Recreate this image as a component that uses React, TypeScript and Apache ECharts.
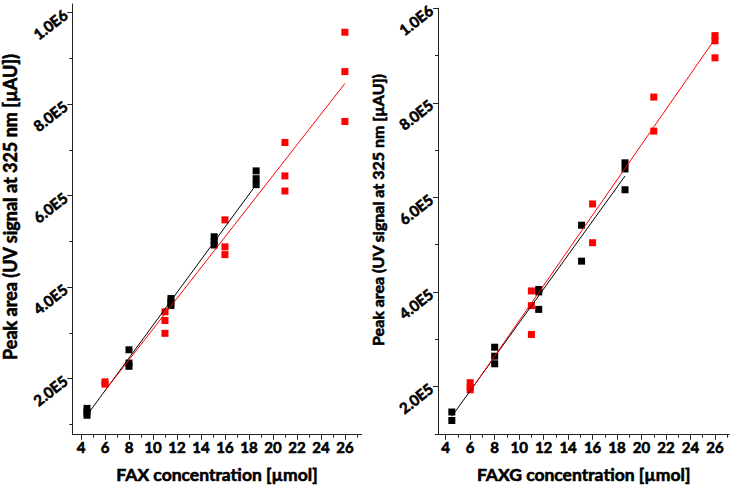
import React, { useEffect, useRef } from "react";
import * as echarts from "echarts";

// FAX panel (left)
const faxBlackX = [4.5, 4.5, 4.5, 8, 8, 8, 11.5, 11.5, 11.5, 15.1, 15.1, 15.1, 18.6, 18.6, 18.6];
const faxBlackY = [135000, 127000, 120000, 263000, 234000, 227000, 375000, 368000, 360000, 510000, 500000, 492000, 654000, 637000, 624000];
const faxRedX = [6, 6, 11, 11, 11, 16, 16, 16, 21, 21, 21, 26, 26, 26];
const faxRedY = [193000, 188000, 346000, 327000, 299000, 547000, 488000, 471000, 716000, 643000, 610000, 957000, 871000, 762000];
const faxBlackFit = [[4.5, 120000], [18.6, 624000]];
const faxRedFit = [[6, 174000], [26, 845000]];

// FAXG panel (right)
const faxgBlackX = [4.5, 4.5, 8, 8, 8, 11.6, 11.6, 11.6, 15.1, 15.1, 18.65, 18.65, 18.65];
const faxgBlackY = [146000, 128000, 283000, 264000, 248000, 405000, 400000, 363000, 541000, 465000, 673000, 660000, 616000];
const faxgRedX = [6, 6, 6, 11, 11, 11, 16, 16, 21, 21, 26, 26, 26];
const faxgRedY = [208000, 198000, 193000, 402000, 371000, 310000, 586000, 504000, 812000, 740000, 942000, 931000, 895000];
const faxgBlackFit = [[4.5, 137000], [18.65, 645000]];
const faxgRedFit = [[6, 190000], [26, 935000]];

const xMajor = [4, 6, 8, 10, 12, 14, 16, 18, 20, 22, 24, 26];
const xMinor = [4, 5, 6, 7, 8, 9, 10, 11, 12, 13, 14, 15, 16, 17, 18, 19, 20, 21, 22, 23, 24, 25, 26, 27];
const yMajor = [200000, 400000, 600000, 800000, 1000000];
const yMinor = [100000, 300000, 500000, 700000, 900000];

const xNames = ["FAX concentration [µmol]", "FAXG concentration [µmol]"];
const yName = "Peak area (UV signal at 325 nm [µAU])";

const FONT = "Lato";
const W = "bold";
const heavy = { textBorderColor: "#000", textBorderWidth: 0.6 };

function sci(v: number): string {
  const e = Math.floor(Math.log10(v) + 1e-9);
  return (v / Math.pow(10, e)).toFixed(1) + "E" + e;
}

function pairs(xs: number[], ys: number[]) {
  return xs.map((x, i) => [x, ys[i]]);
}

export default function App() {
  const ref = useRef<HTMLDivElement>(null);
  useEffect(() => {
    if (!ref.current) return;
    const chart = echarts.init(ref.current, undefined, { renderer: "svg" });
    const axisLine = { show: true, lineStyle: { color: "#222", width: 1 } };
    const mkX = (grid: number, min: number, max: number, name: string) => [
      {
        type: "value", gridIndex: grid, min, max, position: "bottom",
        axisLine,
        splitLine: { show: false },
        axisTick: { show: true, customValues: xMajor, length: 5, lineStyle: { color: "#222" } },
        axisLabel: { customValues: xMajor, fontFamily: FONT, fontWeight: W, fontSize: 15, color: "#000", margin: 5, ...heavy },
        name, nameLocation: "middle", nameGap: 31,
        nameTextStyle: { fontFamily: FONT, fontWeight: W, fontSize: 17.5, color: "#000", ...heavy },
      },
      {
        type: "value", gridIndex: grid, min, max, position: "bottom",
        axisLine: { show: false },
        splitLine: { show: false },
        axisTick: { show: true, customValues: xMinor, length: 3, lineStyle: { color: "#222" } },
        axisLabel: { show: false },
      },
    ];
    const mkY = (grid: number, min: number, max: number) => [
      {
        type: "value", gridIndex: grid, min, max, position: "left",
        axisLine,
        splitLine: { show: false },
        axisTick: { show: true, customValues: yMajor, length: 5, lineStyle: { color: "#222" } },
        axisLabel: {
          customValues: yMajor, formatter: (v: number) => sci(v), rotate: 38,
          fontFamily: FONT, fontWeight: W, fontSize: 15, color: "#000", margin: 7, ...heavy,
        },
      },
      {
        type: "value", gridIndex: grid, min, max, position: "left",
        axisLine: { show: false },
        splitLine: { show: false },
        axisTick: { show: true, customValues: yMinor, length: 3, lineStyle: { color: "#222" } },
        axisLabel: { show: false },
      },
    ];
    const scatter = (xi: number, yi: number, data: number[][], color: string) => ({
      type: "scatter", xAxisIndex: xi, yAxisIndex: yi, data, symbol: "rect", symbolSize: 7,
      itemStyle: { color, opacity: 1 }, z: 3,
    });
    const line = (xi: number, yi: number, data: number[][], color: string) => ({
      type: "line", xAxisIndex: xi, yAxisIndex: yi, data, symbol: "none",
      lineStyle: { color, width: 1 }, z: 4,
    });
    chart.setOption({
      animation: false,
      backgroundColor: "#fff",
      grid: [
        { left: 72.3, top: 4, width: 289.4, height: 438 },
        { left: 438, top: 5, width: 291.3, height: 436 },
      ],
      xAxis: [...mkX(0, 3.275, 27.4, xNames[0]), ...mkX(1, 3.37, 27.17, xNames[1])],
      yAxis: [...mkY(0, 77500, 1018700), ...mkY(1, 98000, 1000000)],
      series: [
        scatter(0, 0, pairs(faxRedX, faxRedY), "#ff0000"),
        scatter(0, 0, pairs(faxBlackX, faxBlackY), "#000"),
        line(0, 0, faxBlackFit, "#000"),
        line(0, 0, faxRedFit, "#ff0000"),
        scatter(2, 2, pairs(faxgBlackX, faxgBlackY), "#000"),
        scatter(2, 2, pairs(faxgRedX, faxgRedY), "#ff0000"),
        line(2, 2, faxgBlackFit, "#000"),
        line(2, 2, faxgRedFit, "#ff0000"),
      ],
      graphic: [
        {
          type: "text", x: 10, y: 207, rotation: Math.PI / 2,
          style: { text: yName, fontFamily: FONT, fontWeight: W, fontSize: 18, fill: "#000", stroke: "#000", lineWidth: 0.6, align: "center", verticalAlign: "middle" },
        },
        {
          type: "text", x: 377, y: 210, rotation: Math.PI / 2,
          style: { text: yName, fontFamily: FONT, fontWeight: W, fontSize: 16, fill: "#000", stroke: "#000", lineWidth: 0.6, align: "center", verticalAlign: "middle" },
        },
      ],
    });
    return () => chart.dispose();
  }, []);
  return <div ref={ref} style={{ position: "fixed", left: 0, top: 0, width: 737, height: 489 }} />;
}
